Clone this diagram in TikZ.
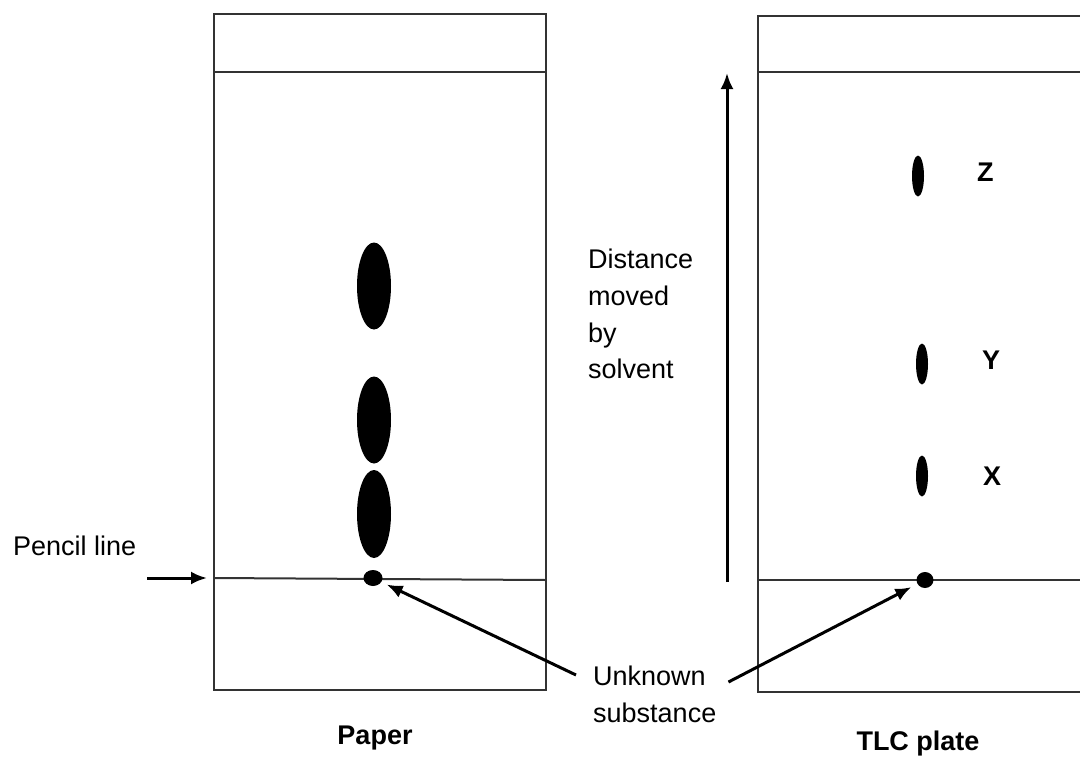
\documentclass[tikz,border=0pt]{standalone}
\usepackage{fontspec}
\setmainfont{Liberation Sans}
\usetikzlibrary{shapes.geometric,arrows.meta,positioning}

\tikzstyle{spot}=[ellipse,
                  fill=black,
                  inner sep=0pt,
                  outer sep=0pt]
\tikzstyle{plate}=[line width=2pt,
                   draw=black!80]
\tikzstyle{note}=[inner sep=0pt,
                  align=left,
                  font=\fontsize{27}{36.7}\selectfont]
\tikzstyle{letter}=[inner sep=0pt,
                    font=\fontsize{27}{30}\selectfont\bfseries]

\begin{document}
\begin{tikzpicture}[x=1pt,y=-1pt,>={Latex[length=16pt,width=13pt]}]
  \useasboundingbox (0,0) rectangle (1080,756);
  % The paper and the TLC plate, each with solvent front and pencil line:
  \draw[plate] (214,14) rectangle (546,690);
  \draw[plate] (214,72) -- (546,72);
  \draw[plate] (214,578) -- (546,580);
  \draw[plate] (758,16) rectangle (1100,692);
  \draw[plate] (758,72) -- (1100,72);
  \draw[plate] (758,580) -- (1100,580);

  % Spots on the paper:
  \node (P0) [spot, minimum width=19pt, minimum height=16pt] at (373,578) {};
  \node (P1) [spot, minimum width=34pt, minimum height=88pt] at (374,514) {};
  \node (P2) [spot, minimum width=34pt, minimum height=87pt] at (374,420) {};
  \node (P3) [spot, minimum width=34pt, minimum height=87pt] at (374,286) {};

  % Spots on the TLC plate:
  \node (T0) [spot, minimum width=17pt, minimum height=16pt] at (925,580) {};
  \node (TX) [spot, minimum width=12pt, minimum height=41pt] at (922,476) {};
  \node (TY) [spot, minimum width=12pt, minimum height=41pt] at (922,364) {};
  \node (TZ) [spot, minimum width=12pt, minimum height=41pt] at (918,176) {};
  \node (X) [letter, right=55pt of TX] {X};
  \node (Y) [letter, right=54pt of TY, yshift=4pt] {Y};
  \node (Z) [letter, right=53pt of TZ, yshift=4pt] {Z};

  % Texts:
  \node (pencil) [note, anchor=base west] at (13,555) {Pencil line};
  \node (dist) [note, anchor=north west] at (588,249) {Distance\\moved\\by\\solvent};
  \node (unk) [note, anchor=north west] at (593,666) {Unknown\\substance};
  \node (paper) [note, anchor=base, font=\fontsize{27}{30}\selectfont\bfseries] at (375,744) {Paper};
  \node (tlc) [note, anchor=base, font=\fontsize{27}{30}\selectfont\bfseries] at (918,750) {TLC plate};

  \coordinate (pin) at (147,578);
  \coordinate (pout) at (207,578);
  \coordinate (dlow) at (727,582);
  \coordinate (dtop) at (727,73);

  % The arrows:
  \path[->, line width=3pt]
      (pin) edge (pout)
      (dlow) edge (dtop)
      ([xshift=-17pt,yshift=-9pt]unk.north west) edge[shorten >=6pt] (P0)
      ([xshift=12pt,yshift=-16pt]unk.north east) edge[shorten >=7pt] (T0)
;
\end{tikzpicture}
\end{document}
